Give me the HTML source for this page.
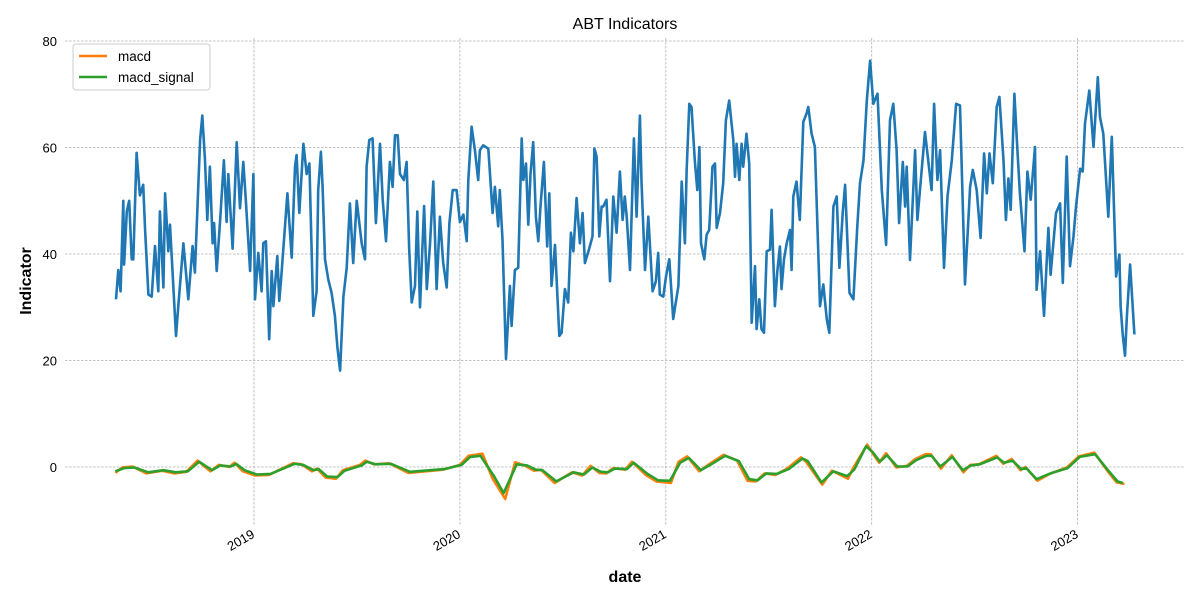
<!DOCTYPE html>
<html><head><meta charset="utf-8"><style>
body{margin:0;background:#fff;}
svg text{font-family:"Liberation Sans","DejaVu Sans",sans-serif;}
</style></head><body>
<svg id="chart" width="1200" height="600" xmlns="http://www.w3.org/2000/svg">
<rect width="1200" height="600" fill="#fff"/>
<g id="grid"></g>
<g id="series"></g>
<g id="axes"></g>
<text x="625" y="29" text-anchor="middle" font-size="16">ABT Indicators</text>
<text x="625" y="582" text-anchor="middle" font-size="16" font-weight="bold">date</text>
<text transform="translate(31,281) rotate(-90)" text-anchor="middle" font-size="16" font-weight="bold">Indicator</text>
<g>
<rect x="73" y="44" width="137" height="46" rx="3" fill="#fff" fill-opacity="0.8" stroke="#ccc"/>
<g><line x1="79" y1="56" x2="107" y2="56" stroke="#ff7f0e" stroke-width="2.5"/><text x="118" y="61" font-size="13.5">macd</text></g>
<g><line x1="79" y1="77" x2="107" y2="77" stroke="#2ca02c" stroke-width="2.5"/><text x="118" y="82" font-size="13.5">macd_signal</text></g>
</g>
</svg>
<script>
const yTicks=[0,20,40,60,80];
const xTickYears=[2019,2020,2021,2022,2023];
const indDates=[2018.330,2018.341,2018.352,2018.365,2018.369,2018.382,2018.394,2018.406,2018.414,2018.430,2018.446,2018.462,2018.471,2018.487,2018.503,2018.519,2018.535,2018.543,2018.560,2018.568,2018.584,2018.592,2018.621,2018.632,2018.657,2018.681,2018.702,2018.713,2018.738,2018.749,2018.762,2018.773,2018.786,2018.799,2018.806,2018.819,2018.838,2018.854,2018.867,2018.875,2018.896,2018.916,2018.932,2018.948,2018.959,2018.981,2018.997,2019.005,2019.021,2019.037,2019.045,2019.058,2019.074,2019.086,2019.094,2019.113,2019.123,2019.134,2019.162,2019.183,2019.199,2019.207,2019.220,2019.240,2019.256,2019.269,2019.288,2019.304,2019.312,2019.325,2019.333,2019.345,2019.361,2019.377,2019.393,2019.405,2019.418,2019.434,2019.450,2019.466,2019.482,2019.499,2019.523,2019.539,2019.547,2019.560,2019.576,2019.592,2019.612,2019.625,2019.641,2019.660,2019.673,2019.685,2019.698,2019.709,2019.728,2019.741,2019.754,2019.766,2019.782,2019.793,2019.806,2019.826,2019.839,2019.855,2019.871,2019.887,2019.903,2019.919,2019.936,2019.949,2019.965,2019.984,2020.000,2020.017,2020.033,2020.041,2020.057,2020.073,2020.089,
2020.097,2020.113,2020.138,2020.159,2020.170,2020.186,2020.194,2020.207,2020.224,2020.243,2020.251,2020.267,2020.283,2020.300,2020.308,2020.321,2020.332,2020.343,2020.356,2020.369,2020.381,2020.392,2020.408,2020.424,2020.434,2020.445,2020.462,2020.483,2020.494,2020.510,2020.526,2020.539,2020.551,2020.567,2020.583,2020.596,2020.607,2020.628,2020.644,2020.653,2020.664,2020.677,2020.688,2020.696,2020.712,2020.729,2020.745,2020.761,2020.777,2020.790,2020.801,2020.810,2020.826,2020.845,2020.858,2020.874,2020.882,2020.899,2020.915,2020.936,2020.952,2020.963,2020.971,2020.988,2021.001,2021.017,2021.036,2021.061,2021.077,2021.093,2021.101,2021.114,2021.125,2021.141,2021.153,2021.163,2021.171,2021.187,2021.198,2021.211,2021.227,2021.239,2021.247,2021.263,2021.279,2021.292,2021.308,2021.328,2021.336,2021.344,2021.357,2021.368,2021.376,2021.392,2021.405,2021.417,2021.433,2021.441,2021.454,2021.465,2021.477,2021.490,2021.506,2021.514,2021.530,2021.541,2021.554,2021.562,2021.574,2021.587,2021.603,2021.611,2021.619,2021.635,2021.651,2021.668,2021.684,2021.692,2021.708,2021.724,2021.749,
2021.765,2021.782,2021.794,2021.814,2021.830,2021.843,2021.859,2021.871,2021.892,2021.911,2021.930,2021.943,2021.960,2021.976,2021.992,2022.008,2022.028,2022.049,2022.070,2022.089,2022.105,2022.121,2022.133,2022.151,2022.162,2022.170,2022.186,2022.211,2022.222,2022.243,2022.259,2022.291,2022.303,2022.319,2022.332,2022.351,2022.368,2022.389,2022.410,2022.429,2022.453,2022.478,2022.491,2022.510,2022.529,2022.546,2022.559,2022.572,2022.588,2022.607,2022.620,2022.640,2022.652,2022.664,2022.675,2022.693,2022.708,2022.720,2022.742,2022.756,2022.772,2022.793,2022.801,2022.818,2022.837,2022.858,2022.869,2022.895,2022.915,2022.928,2022.947,2022.963,2022.980,2022.992,2023.012,2023.025,2023.036,2023.057,2023.077,2023.098,2023.109,2023.125,2023.149,2023.166,2023.187,2023.203,2023.209,2023.219,2023.230,2023.239,2023.255,2023.276];
const indValues=[31.5,37,33,50,38,48,50,39,39,59,51,53,44.5,32.4,32,41.5,33,48,33.7,51.4,40.5,45.5,24.6,30,42,31.5,41.5,36.5,61.4,66,57.6,46.4,56.4,42,45.8,36.8,47.7,57.6,46,55,41,61,48.6,57.3,50.8,36.8,55,31.5,40.2,33,42,42.4,24,36.8,30.2,39.6,31.2,36.5,51.4,39.3,56.4,58.6,47.7,60.7,55,57,28.4,33,52,59.2,52.6,39,35.2,32.7,28.4,22.5,18.1,32,37.4,49.5,38.3,50,42,39,56.4,61.4,61.7,45.8,60.7,50.2,42.4,57.3,52.6,62.3,62.3,55,53.9,57.3,40.8,30.9,34,48,30,49,33.4,41.8,53.6,33.4,47,38.3,33.7,45.8,52,52,46,47.4,42.4,53.9,63.9,59.5,53.9,
59.5,60.4,59.8,47.7,52.6,45.2,52,42.7,20.3,34,26.5,37,37.4,61.7,53.9,57,45.5,55,61,47,42.4,49.2,57.3,41.4,51.4,34,41.7,24.6,25.2,33.4,30.9,44,40.5,50.5,42,47.7,38.3,41,43.3,59.8,58.3,43.3,48.9,48.9,50.2,34.9,50.8,44,55.5,46.4,50.8,47,37,61.7,47,66,53.6,37,47,33,34.9,40.2,32.4,32,35.8,39,27.8,34,53.6,42,55.5,68.2,67.6,57.6,52,60.1,42,39,43.6,44.5,56.4,57,44.9,47.7,53.3,65.1,68.8,61.4,54.5,60.7,53.9,60.7,56.4,62.6,57,27.1,37.7,25.9,31.5,25.9,25.2,40.5,40.8,48.3,30.2,36.5,41.4,33.4,39,42,44.5,37,50.8,53.6,46.4,64.8,66.4,67.6,62.6,60.1,30.2,
34.3,27.7,25.2,48.9,50.8,37.4,47.7,53,32.7,31.5,45.2,53.3,57.6,68.8,76.3,68.2,70.1,52,41.7,65.1,68.2,59.5,45.8,57.3,48.9,56.4,38.9,59.5,46.4,55.8,62.9,52,68.2,53.9,59.5,37.4,50.8,57.6,68.2,67.9,34.3,52.6,55.8,52,43,58.9,51.4,58.9,53.3,67.6,69.5,57.6,46.4,54.2,48.3,70.1,59.2,51.4,40.5,55.5,50.2,60.1,33.3,40.5,28.4,44.9,36.1,47.7,49.5,34.6,58.3,37.7,43.3,48.9,56,55.5,64.5,70.7,60.1,73.2,65.7,62.6,47,62,35.8,39.9,30.2,24.9,20.9,28,38,24.9];
const sigDates=[2018.327,2018.369,2018.419,2018.486,2018.561,2018.620,2018.679,2018.734,2018.796,2018.837,2018.888,2018.913,2018.954,2019.013,2019.080,2019.197,2019.239,2019.289,2019.314,2019.356,2019.406,2019.440,2019.523,2019.548,2019.590,2019.665,2019.757,2019.925,2020.008,2020.050,2020.100,2020.167,2020.212,2020.276,2020.326,2020.368,2020.401,2020.468,2020.552,2020.602,2020.643,2020.685,2020.719,2020.752,2020.811,2020.844,2020.911,2020.962,2021.020,2021.070,2021.112,2021.170,2021.221,2021.288,2021.355,2021.405,2021.446,2021.488,2021.539,2021.597,2021.664,2021.689,2021.756,2021.814,2021.881,2021.915,2021.973,2022.007,2022.040,2022.074,2022.124,2022.174,2022.216,2022.266,2022.291,2022.333,2022.392,2022.442,2022.483,2022.525,2022.609,2022.643,2022.684,2022.726,2022.751,2022.801,2022.868,2022.952,2023.010,2023.085,2023.152,2023.194,2023.219];
const sigValues=[-0.8,-0.2,-0.1,-1.0,-0.6,-1.0,-0.8,1.0,-0.6,0.3,0.1,0.6,-0.6,-1.4,-1.3,0.6,0.4,-0.6,-0.4,-1.8,-1.9,-0.7,0.3,1.0,0.5,0.6,-0.9,-0.4,0.4,1.9,2.1,-1.8,-4.9,0.5,0.3,-0.5,-0.6,-2.7,-1.0,-1.4,-0.1,-0.9,-1.0,-0.3,-0.4,0.8,-1.3,-2.5,-2.6,0.8,1.7,-0.6,0.5,2.1,1.1,-2.3,-2.5,-1.2,-1.3,-0.4,1.6,1.1,-2.9,-0.8,-1.7,-0.5,3.9,2.7,1.0,2.2,0.1,0.1,1.3,2.1,2.1,0.1,1.9,-0.6,0.3,0.5,1.8,0.8,1.2,-0.4,-0.2,-2.3,-1.2,-0.2,1.9,2.4,-0.8,-2.7,-3.0];
const macdDates=[2018.327,2018.360,2018.410,2018.478,2018.553,2018.612,2018.671,2018.726,2018.788,2018.829,2018.880,2018.905,2018.946,2019.005,2019.072,2019.189,2019.231,2019.281,2019.306,2019.348,2019.398,2019.432,2019.515,2019.540,2019.582,2019.657,2019.749,2019.917,2020.000,2020.042,2020.110,2020.159,2020.220,2020.268,2020.318,2020.360,2020.393,2020.460,2020.544,2020.594,2020.635,2020.677,2020.711,2020.744,2020.803,2020.836,2020.903,2020.954,2021.025,2021.062,2021.104,2021.162,2021.213,2021.280,2021.347,2021.397,2021.438,2021.480,2021.531,2021.589,2021.656,2021.681,2021.760,2021.806,2021.885,2021.907,2021.978,2022.003,2022.036,2022.070,2022.120,2022.170,2022.212,2022.262,2022.287,2022.337,2022.388,2022.446,2022.479,2022.521,2022.605,2022.639,2022.680,2022.722,2022.747,2022.805,2022.864,2022.948,2023.006,2023.081,2023.148,2023.190,2023.228];
const macdValues=[-1.1,-0.1,0.1,-1.2,-0.7,-1.2,-0.9,1.2,-0.8,0.4,0.0,0.8,-0.8,-1.6,-1.5,0.7,0.5,-0.8,-0.3,-2.0,-2.2,-0.6,0.4,1.2,0.5,0.7,-1.1,-0.5,0.4,2.1,2.5,-2.2,-6.0,0.9,0.2,-0.7,-0.5,-3.0,-1.0,-1.6,0.2,-1.1,-1.2,-0.2,-0.5,1.0,-1.5,-2.7,-3.0,1.0,2.0,-0.8,0.6,2.3,1.2,-2.6,-2.7,-1.2,-1.5,-0.3,1.8,1.0,-3.3,-0.7,-2.2,-0.4,4.2,2.7,0.8,2.6,-0.1,0.2,1.5,2.4,2.4,-0.3,2.2,-1.0,0.4,0.5,2.1,0.6,1.5,-0.6,0.0,-2.6,-1.3,-0.1,2.0,2.7,-0.9,-2.9,-3.2];

const X=y=>48.1+(y-2018)*205.9;
const Y=v=>467-v*5.325;
const NS='http://www.w3.org/2000/svg';
const grid=document.getElementById('grid'),axes=document.getElementById('axes'),series=document.getElementById('series');
function mk(tag,attrs,parent){const e=document.createElementNS(NS,tag);for(const k in attrs)e.setAttribute(k,attrs[k]);parent.appendChild(e);return e;}
yTicks.forEach(t=>{
  const l=mk('line',{x1:65,x2:1185,y1:Y(t),y2:Y(t),stroke:'#b0b0b0','stroke-width':0.8,'stroke-dasharray':'2.5,1.5'},grid);
  
  
  const tx=mk('text',{x:57,y:Y(t)+5,'text-anchor':'end','font-size':13},axes);
  
  
  tx.textContent=t;
});
xTickYears.forEach(t=>{
  const l=mk('line',{x1:X(t),x2:X(t),y1:38,y2:525,stroke:'#b0b0b0','stroke-width':0.8,'stroke-dasharray':'2.5,1.5'},grid);
  
  
  const tx=mk('text',{transform:`translate(${X(t)-3},${529}) rotate(-30)`,'text-anchor':'end','font-size':13,y:9},axes);
  
  
  tx.textContent=t;
});
function line(dates,vals,color,name){
  const d=dates.map((t,i)=>(i?'L':'M')+X(t).toFixed(1)+','+Y(vals[i]).toFixed(1)).join('');
  const p=mk('path',{d:d,fill:'none',stroke:color,'stroke-width':2.6,'stroke-linejoin':'round'},series);
  
  
}
line(indDates,indValues,'#1f77b4','indicator-line');
line(macdDates,macdValues,'#ff7f0e','macd-line');
line(sigDates,sigValues,'#2ca02c','macd-signal-line');
</script>
</body></html>
